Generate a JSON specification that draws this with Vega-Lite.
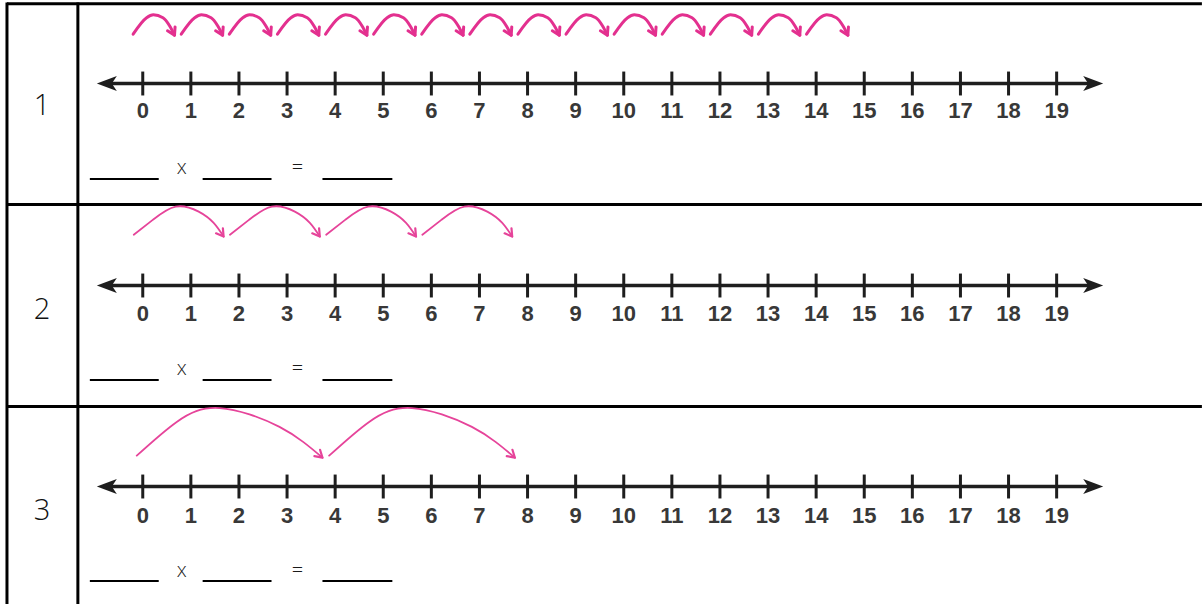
{
  "$schema": "https://vega.github.io/schema/vega-lite/v6.json",
  "width": 1204,
  "height": 606,
  "autosize": {"type": "fit", "contains": "padding"},
  "padding": 0,
  "background": "white",
  "config": {"view": {"stroke": null}},
  "datasets": {
    "grid": [
      {"x": -2.823, "x2": 22.02, "y": 0.014, "y2": 0.014},
      {"x": -2.823, "x2": 22.02, "y": 1.012, "y2": 1.012},
      {"x": -2.823, "x2": 22.02, "y": 2.017, "y2": 2.017},
      {"x": -2.823, "x2": -2.823, "y": 0.007, "y2": 3.0},
      {"x": -1.349, "x2": -1.349, "y": 0.007, "y2": 3.0}
    ],
    "nl": [
      {"r": 1, "y": 0.411},
      {"r": 2, "y": 1.416},
      {"r": 3, "y": 2.416}
    ],
    "nums": [
      {"n": 0}, {"n": 1}, {"n": 2}, {"n": 3}, {"n": 4}, {"n": 5}, {"n": 6}, {"n": 7}, {"n": 8}, {"n": 9},
      {"n": 10}, {"n": 11}, {"n": 12}, {"n": 13}, {"n": 14}, {"n": 15}, {"n": 16}, {"n": 17}, {"n": 18}, {"n": 19}
    ],
    "rownum": [
      {"label": "1", "x": -2.096, "y": 0.52},
      {"label": "2", "x": -2.096, "y": 1.535},
      {"label": "3", "x": -2.096, "y": 2.535}
    ],
    "blanks": [
      {"x": -1.1, "x2": 0.332, "y": 0.886},
      {"x": 1.245, "x2": 2.677, "y": 0.886},
      {"x": 3.736, "x2": 5.189, "y": 0.886},
      {"x": -1.1, "x2": 0.332, "y": 1.886},
      {"x": 1.245, "x2": 2.677, "y": 1.886},
      {"x": 3.736, "x2": 5.189, "y": 1.886},
      {"x": -1.1, "x2": 0.332, "y": 2.886},
      {"x": 1.245, "x2": 2.677, "y": 2.886},
      {"x": 3.736, "x2": 5.189, "y": 2.886}
    ],
    "ops": [
      {"t": "x", "x": 0.809, "y": 0.832},
      {"t": "=", "x": 3.217, "y": 0.832},
      {"t": "x", "x": 0.809, "y": 1.832},
      {"t": "=", "x": 3.217, "y": 1.832},
      {"t": "x", "x": 0.809, "y": 2.837},
      {"t": "=", "x": 3.217, "y": 2.837}
    ],
    "arcs": [
      {"r": 1, "a": 0, "x": -0.2, "y": 0.165}, {"r": 1, "a": 0, "x": 0.08, "y": 0.083}, {"r": 1, "a": 0, "x": 0.22, "y": 0.069}, {"r": 1, "a": 0, "x": 0.42, "y": 0.083}, {"r": 1, "a": 0, "x": 0.56, "y": 0.124}, {"r": 1, "a": 0, "x": 0.66, "y": 0.17},
      {"r": 1, "a": 1, "x": 0.8, "y": 0.165}, {"r": 1, "a": 1, "x": 1.08, "y": 0.083}, {"r": 1, "a": 1, "x": 1.22, "y": 0.069}, {"r": 1, "a": 1, "x": 1.42, "y": 0.083}, {"r": 1, "a": 1, "x": 1.56, "y": 0.124}, {"r": 1, "a": 1, "x": 1.66, "y": 0.17},
      {"r": 1, "a": 2, "x": 1.8, "y": 0.165}, {"r": 1, "a": 2, "x": 2.08, "y": 0.083}, {"r": 1, "a": 2, "x": 2.22, "y": 0.069}, {"r": 1, "a": 2, "x": 2.42, "y": 0.083}, {"r": 1, "a": 2, "x": 2.56, "y": 0.124}, {"r": 1, "a": 2, "x": 2.66, "y": 0.17},
      {"r": 1, "a": 3, "x": 2.8, "y": 0.165}, {"r": 1, "a": 3, "x": 3.08, "y": 0.083}, {"r": 1, "a": 3, "x": 3.22, "y": 0.069}, {"r": 1, "a": 3, "x": 3.42, "y": 0.083}, {"r": 1, "a": 3, "x": 3.56, "y": 0.124}, {"r": 1, "a": 3, "x": 3.66, "y": 0.17},
      {"r": 1, "a": 4, "x": 3.8, "y": 0.165}, {"r": 1, "a": 4, "x": 4.08, "y": 0.083}, {"r": 1, "a": 4, "x": 4.22, "y": 0.069}, {"r": 1, "a": 4, "x": 4.42, "y": 0.083}, {"r": 1, "a": 4, "x": 4.56, "y": 0.124}, {"r": 1, "a": 4, "x": 4.66, "y": 0.17},
      {"r": 1, "a": 5, "x": 4.8, "y": 0.165}, {"r": 1, "a": 5, "x": 5.08, "y": 0.083}, {"r": 1, "a": 5, "x": 5.22, "y": 0.069}, {"r": 1, "a": 5, "x": 5.42, "y": 0.083}, {"r": 1, "a": 5, "x": 5.56, "y": 0.124}, {"r": 1, "a": 5, "x": 5.66, "y": 0.17},
      {"r": 1, "a": 6, "x": 5.8, "y": 0.165}, {"r": 1, "a": 6, "x": 6.08, "y": 0.083}, {"r": 1, "a": 6, "x": 6.22, "y": 0.069}, {"r": 1, "a": 6, "x": 6.42, "y": 0.083}, {"r": 1, "a": 6, "x": 6.56, "y": 0.124}, {"r": 1, "a": 6, "x": 6.66, "y": 0.17},
      {"r": 1, "a": 7, "x": 6.8, "y": 0.165}, {"r": 1, "a": 7, "x": 7.08, "y": 0.083}, {"r": 1, "a": 7, "x": 7.22, "y": 0.069}, {"r": 1, "a": 7, "x": 7.42, "y": 0.083}, {"r": 1, "a": 7, "x": 7.56, "y": 0.124}, {"r": 1, "a": 7, "x": 7.66, "y": 0.17},
      {"r": 1, "a": 8, "x": 7.8, "y": 0.165}, {"r": 1, "a": 8, "x": 8.08, "y": 0.083}, {"r": 1, "a": 8, "x": 8.22, "y": 0.069}, {"r": 1, "a": 8, "x": 8.42, "y": 0.083}, {"r": 1, "a": 8, "x": 8.56, "y": 0.124}, {"r": 1, "a": 8, "x": 8.66, "y": 0.17},
      {"r": 1, "a": 9, "x": 8.8, "y": 0.165}, {"r": 1, "a": 9, "x": 9.08, "y": 0.083}, {"r": 1, "a": 9, "x": 9.22, "y": 0.069}, {"r": 1, "a": 9, "x": 9.42, "y": 0.083}, {"r": 1, "a": 9, "x": 9.56, "y": 0.124}, {"r": 1, "a": 9, "x": 9.66, "y": 0.17},
      {"r": 1, "a": 10, "x": 9.8, "y": 0.165}, {"r": 1, "a": 10, "x": 10.08, "y": 0.083}, {"r": 1, "a": 10, "x": 10.22, "y": 0.069}, {"r": 1, "a": 10, "x": 10.42, "y": 0.083}, {"r": 1, "a": 10, "x": 10.56, "y": 0.124}, {"r": 1, "a": 10, "x": 10.66, "y": 0.17},
      {"r": 1, "a": 11, "x": 10.8, "y": 0.165}, {"r": 1, "a": 11, "x": 11.08, "y": 0.083}, {"r": 1, "a": 11, "x": 11.22, "y": 0.069}, {"r": 1, "a": 11, "x": 11.42, "y": 0.083}, {"r": 1, "a": 11, "x": 11.56, "y": 0.124}, {"r": 1, "a": 11, "x": 11.66, "y": 0.17},
      {"r": 1, "a": 12, "x": 11.8, "y": 0.165}, {"r": 1, "a": 12, "x": 12.08, "y": 0.083}, {"r": 1, "a": 12, "x": 12.22, "y": 0.069}, {"r": 1, "a": 12, "x": 12.42, "y": 0.083}, {"r": 1, "a": 12, "x": 12.56, "y": 0.124}, {"r": 1, "a": 12, "x": 12.66, "y": 0.17},
      {"r": 1, "a": 13, "x": 12.8, "y": 0.165}, {"r": 1, "a": 13, "x": 13.08, "y": 0.083}, {"r": 1, "a": 13, "x": 13.22, "y": 0.069}, {"r": 1, "a": 13, "x": 13.42, "y": 0.083}, {"r": 1, "a": 13, "x": 13.56, "y": 0.124}, {"r": 1, "a": 13, "x": 13.66, "y": 0.17},
      {"r": 1, "a": 14, "x": 13.8, "y": 0.165}, {"r": 1, "a": 14, "x": 14.08, "y": 0.083}, {"r": 1, "a": 14, "x": 14.22, "y": 0.069}, {"r": 1, "a": 14, "x": 14.42, "y": 0.083}, {"r": 1, "a": 14, "x": 14.56, "y": 0.124}, {"r": 1, "a": 14, "x": 14.66, "y": 0.17},
      {"r": 2, "a": 20, "x": -0.187, "y": 1.163}, {"r": 2, "a": 20, "x": 0.208, "y": 1.089}, {"r": 2, "a": 20, "x": 0.685, "y": 1.023}, {"r": 2, "a": 20, "x": 1.162, "y": 1.048}, {"r": 2, "a": 20, "x": 1.474, "y": 1.104}, {"r": 2, "a": 20, "x": 1.681, "y": 1.172},
      {"r": 2, "a": 21, "x": 1.813, "y": 1.163}, {"r": 2, "a": 21, "x": 2.208, "y": 1.089}, {"r": 2, "a": 21, "x": 2.685, "y": 1.023}, {"r": 2, "a": 21, "x": 3.162, "y": 1.048}, {"r": 2, "a": 21, "x": 3.474, "y": 1.104}, {"r": 2, "a": 21, "x": 3.681, "y": 1.172},
      {"r": 2, "a": 22, "x": 3.813, "y": 1.163}, {"r": 2, "a": 22, "x": 4.208, "y": 1.089}, {"r": 2, "a": 22, "x": 4.685, "y": 1.023}, {"r": 2, "a": 22, "x": 5.162, "y": 1.048}, {"r": 2, "a": 22, "x": 5.474, "y": 1.104}, {"r": 2, "a": 22, "x": 5.681, "y": 1.172},
      {"r": 2, "a": 23, "x": 5.813, "y": 1.163}, {"r": 2, "a": 23, "x": 6.208, "y": 1.089}, {"r": 2, "a": 23, "x": 6.685, "y": 1.023}, {"r": 2, "a": 23, "x": 7.162, "y": 1.048}, {"r": 2, "a": 23, "x": 7.474, "y": 1.104}, {"r": 2, "a": 23, "x": 7.681, "y": 1.172},
      {"r": 3, "a": 30, "x": -0.125, "y": 2.262}, {"r": 3, "a": 30, "x": 0.706, "y": 2.094}, {"r": 3, "a": 30, "x": 1.598, "y": 2.025}, {"r": 3, "a": 30, "x": 2.843, "y": 2.119}, {"r": 3, "a": 30, "x": 3.736, "y": 2.272},
      {"r": 3, "a": 31, "x": 3.875, "y": 2.262}, {"r": 3, "a": 31, "x": 4.706, "y": 2.094}, {"r": 3, "a": 31, "x": 5.598, "y": 2.025}, {"r": 3, "a": 31, "x": 6.843, "y": 2.119}, {"r": 3, "a": 31, "x": 7.736, "y": 2.272}
    ],
    "tips": [
      {"r": 1, "x": 0.66, "y": 0.17}, {"r": 1, "x": 1.66, "y": 0.17}, {"r": 1, "x": 2.66, "y": 0.17}, {"r": 1, "x": 3.66, "y": 0.17}, {"r": 1, "x": 4.66, "y": 0.17},
      {"r": 1, "x": 5.66, "y": 0.17}, {"r": 1, "x": 6.66, "y": 0.17}, {"r": 1, "x": 7.66, "y": 0.17}, {"r": 1, "x": 8.66, "y": 0.17}, {"r": 1, "x": 9.66, "y": 0.17},
      {"r": 1, "x": 10.66, "y": 0.17}, {"r": 1, "x": 11.66, "y": 0.17}, {"r": 1, "x": 12.66, "y": 0.17}, {"r": 1, "x": 13.66, "y": 0.17}, {"r": 1, "x": 14.66, "y": 0.17},
      {"r": 2, "x": 1.681, "y": 1.172}, {"r": 2, "x": 3.681, "y": 1.172}, {"r": 2, "x": 5.681, "y": 1.172}, {"r": 2, "x": 7.681, "y": 1.172},
      {"r": 3, "x": 3.736, "y": 2.272}, {"r": 3, "x": 7.736, "y": 2.272}
    ]
  },
  "layer": [
    {
      "data": {"name": "grid"},
      "mark": {"type": "rule", "color": "#000000", "strokeWidth": 3},
      "encoding": {
        "x": {"field": "x", "type": "quantitative", "axis": null, "scale": {"domain": [-2.968, 22.022], "nice": false, "zero": false}},
        "x2": {"field": "x2"},
        "y": {"field": "y", "type": "quantitative", "axis": null, "scale": {"domain": [0, 3], "reverse": true, "nice": false, "zero": false}},
        "y2": {"field": "y2"}
      }
    },
    {
      "data": {"name": "nl"},
      "mark": {"type": "rule", "color": "#1e1e1e", "strokeWidth": 3.5},
      "encoding": {
        "x": {"datum": -0.8, "type": "quantitative", "axis": null, "scale": {"domain": [-2.968, 22.022], "nice": false, "zero": false}},
        "x2": {"datum": 19.8},
        "y": {"field": "y", "type": "quantitative", "axis": null, "scale": {"domain": [0, 3], "reverse": true, "nice": false, "zero": false}}
      }
    },
    {
      "data": {"name": "nl"},
      "mark": {"type": "point", "shape": "M -1 0 L 1 -0.75 L 0.5 0 L 1 0.75 Z", "filled": true, "color": "#1e1e1e", "size": 400, "opacity": 1, "strokeWidth": 0},
      "encoding": {
        "x": {"datum": -0.747, "type": "quantitative", "axis": null, "scale": {"domain": [-2.968, 22.022], "nice": false, "zero": false}},
        "y": {"field": "y", "type": "quantitative", "axis": null, "scale": {"domain": [0, 3], "reverse": true, "nice": false, "zero": false}}
      }
    },
    {
      "data": {"name": "nl"},
      "mark": {"type": "point", "shape": "M 1 0 L -1 -0.75 L -0.5 0 L -1 0.75 Z", "filled": true, "color": "#1e1e1e", "size": 400, "opacity": 1, "strokeWidth": 0},
      "encoding": {
        "x": {"datum": 19.76, "type": "quantitative", "axis": null, "scale": {"domain": [-2.968, 22.022], "nice": false, "zero": false}},
        "y": {"field": "y", "type": "quantitative", "axis": null, "scale": {"domain": [0, 3], "reverse": true, "nice": false, "zero": false}}
      }
    },
    {
      "data": {"name": "nums"},
      "mark": {"type": "rule", "color": "#1e1e1e", "strokeWidth": 3},
      "encoding": {
        "x": {"field": "n", "type": "quantitative", "axis": null, "scale": {"domain": [-2.968, 22.022], "nice": false, "zero": false}},
        "y": {"datum": 0.351, "type": "quantitative", "axis": null, "scale": {"domain": [0, 3], "reverse": true, "nice": false, "zero": false}},
        "y2": {"datum": 0.47}
      }
    },
    {
      "data": {"name": "nums"},
      "mark": {"type": "rule", "color": "#1e1e1e", "strokeWidth": 3},
      "encoding": {
        "x": {"field": "n", "type": "quantitative", "axis": null, "scale": {"domain": [-2.968, 22.022], "nice": false, "zero": false}},
        "y": {"datum": 1.356, "type": "quantitative", "axis": null, "scale": {"domain": [0, 3], "reverse": true, "nice": false, "zero": false}},
        "y2": {"datum": 1.475}
      }
    },
    {
      "data": {"name": "nums"},
      "mark": {"type": "rule", "color": "#1e1e1e", "strokeWidth": 3},
      "encoding": {
        "x": {"field": "n", "type": "quantitative", "axis": null, "scale": {"domain": [-2.968, 22.022], "nice": false, "zero": false}},
        "y": {"datum": 2.356, "type": "quantitative", "axis": null, "scale": {"domain": [0, 3], "reverse": true, "nice": false, "zero": false}},
        "y2": {"datum": 2.475}
      }
    },
    {
      "data": {"name": "nums"},
      "mark": {"type": "text", "font": "Liberation Sans", "fontWeight": "bold", "fontSize": 22, "color": "#383838", "baseline": "middle", "align": "center"},
      "encoding": {
        "x": {"field": "n", "type": "quantitative", "axis": null, "scale": {"domain": [-2.968, 22.022], "nice": false, "zero": false}},
        "y": {"datum": 0.547, "type": "quantitative", "axis": null, "scale": {"domain": [0, 3], "reverse": true, "nice": false, "zero": false}},
        "text": {"field": "n", "type": "nominal"}
      }
    },
    {
      "data": {"name": "nums"},
      "mark": {"type": "text", "font": "Liberation Sans", "fontWeight": "bold", "fontSize": 22, "color": "#383838", "baseline": "middle", "align": "center"},
      "encoding": {
        "x": {"field": "n", "type": "quantitative", "axis": null, "scale": {"domain": [-2.968, 22.022], "nice": false, "zero": false}},
        "y": {"datum": 1.555, "type": "quantitative", "axis": null, "scale": {"domain": [0, 3], "reverse": true, "nice": false, "zero": false}},
        "text": {"field": "n", "type": "nominal"}
      }
    },
    {
      "data": {"name": "nums"},
      "mark": {"type": "text", "font": "Liberation Sans", "fontWeight": "bold", "fontSize": 22, "color": "#383838", "baseline": "middle", "align": "center"},
      "encoding": {
        "x": {"field": "n", "type": "quantitative", "axis": null, "scale": {"domain": [-2.968, 22.022], "nice": false, "zero": false}},
        "y": {"datum": 2.56, "type": "quantitative", "axis": null, "scale": {"domain": [0, 3], "reverse": true, "nice": false, "zero": false}},
        "text": {"field": "n", "type": "nominal"}
      }
    },
    {
      "data": {"name": "rownum"},
      "mark": {"type": "text", "font": "Open Sans", "fontWeight": 300, "fontSize": 29, "color": "#111111", "baseline": "middle", "align": "center"},
      "encoding": {
        "x": {"field": "x", "type": "quantitative", "axis": null, "scale": {"domain": [-2.968, 22.022], "nice": false, "zero": false}},
        "y": {"field": "y", "type": "quantitative", "axis": null, "scale": {"domain": [0, 3], "reverse": true, "nice": false, "zero": false}},
        "text": {"field": "label", "type": "nominal"}
      }
    },
    {
      "data": {"name": "blanks"},
      "mark": {"type": "rule", "color": "#000000", "strokeWidth": 2},
      "encoding": {
        "x": {"field": "x", "type": "quantitative", "axis": null, "scale": {"domain": [-2.968, 22.022], "nice": false, "zero": false}},
        "x2": {"field": "x2"},
        "y": {"field": "y", "type": "quantitative", "axis": null, "scale": {"domain": [0, 3], "reverse": true, "nice": false, "zero": false}}
      }
    },
    {
      "data": {"name": "ops"},
      "mark": {"type": "text", "font": "Open Sans", "fontWeight": 300, "fontSize": 20, "color": "#1a1a1a", "baseline": "middle", "align": "center"},
      "encoding": {
        "x": {"field": "x", "type": "quantitative", "axis": null, "scale": {"domain": [-2.968, 22.022], "nice": false, "zero": false}},
        "y": {"field": "y", "type": "quantitative", "axis": null, "scale": {"domain": [0, 3], "reverse": true, "nice": false, "zero": false}},
        "text": {"field": "t", "type": "nominal"}
      }
    },
    {
      "data": {"name": "arcs"},
      "transform": [{"filter": "datum.r == 1"}],
      "mark": {"type": "line", "interpolate": "monotone", "color": "#e3308f", "strokeWidth": 3, "strokeCap": "round"},
      "encoding": {
        "x": {"field": "x", "type": "quantitative", "axis": null, "scale": {"domain": [-2.968, 22.022], "nice": false, "zero": false}},
        "y": {"field": "y", "type": "quantitative", "axis": null, "scale": {"domain": [0, 3], "reverse": true, "nice": false, "zero": false}},
        "detail": {"field": "a", "type": "nominal"}
      }
    },
    {
      "data": {"name": "arcs"},
      "transform": [{"filter": "datum.r > 1"}],
      "mark": {"type": "line", "interpolate": "natural", "color": "#e6449a", "strokeWidth": 1.8, "strokeCap": "round"},
      "encoding": {
        "x": {"field": "x", "type": "quantitative", "axis": null, "scale": {"domain": [-2.968, 22.022], "nice": false, "zero": false}},
        "y": {"field": "y", "type": "quantitative", "axis": null, "scale": {"domain": [0, 3], "reverse": true, "nice": false, "zero": false}},
        "detail": {"field": "a", "type": "nominal"}
      }
    },
    {
      "data": {"name": "tips"},
      "transform": [{"filter": "datum.r == 1"}],
      "mark": {"type": "point", "shape": "M -0.6 -1 L 0 0 L 0.6 -1", "filled": false, "color": "#e3308f", "size": 200, "strokeWidth": 3, "opacity": 1, "angle": -27, "strokeCap": "round", "strokeJoin": "round"},
      "encoding": {
        "x": {"field": "x", "type": "quantitative", "axis": null, "scale": {"domain": [-2.968, 22.022], "nice": false, "zero": false}},
        "y": {"field": "y", "type": "quantitative", "axis": null, "scale": {"domain": [0, 3], "reverse": true, "nice": false, "zero": false}}
      }
    },
    {
      "data": {"name": "tips"},
      "transform": [{"filter": "datum.r == 2"}],
      "mark": {"type": "point", "shape": "M -0.6 -1 L 0 0 L 0.6 -1", "filled": false, "color": "#e6449a", "size": 200, "strokeWidth": 2.2, "opacity": 1, "angle": -36, "strokeCap": "round", "strokeJoin": "round"},
      "encoding": {
        "x": {"field": "x", "type": "quantitative", "axis": null, "scale": {"domain": [-2.968, 22.022], "nice": false, "zero": false}},
        "y": {"field": "y", "type": "quantitative", "axis": null, "scale": {"domain": [0, 3], "reverse": true, "nice": false, "zero": false}}
      }
    },
    {
      "data": {"name": "tips"},
      "transform": [{"filter": "datum.r == 3"}],
      "mark": {"type": "point", "shape": "M -0.6 -1 L 0 0 L 0.6 -1", "filled": false, "color": "#e6449a", "size": 200, "strokeWidth": 2.2, "opacity": 1, "angle": -48, "strokeCap": "round", "strokeJoin": "round"},
      "encoding": {
        "x": {"field": "x", "type": "quantitative", "axis": null, "scale": {"domain": [-2.968, 22.022], "nice": false, "zero": false}},
        "y": {"field": "y", "type": "quantitative", "axis": null, "scale": {"domain": [0, 3], "reverse": true, "nice": false, "zero": false}}
      }
    }
  ]
}
